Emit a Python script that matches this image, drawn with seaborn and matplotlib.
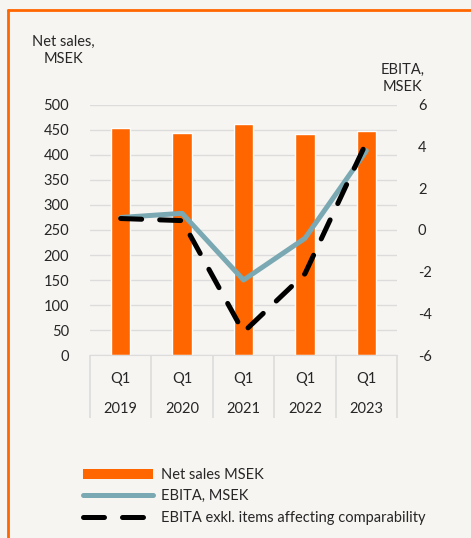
import numpy as np
import pandas as pd
import seaborn as sns
import matplotlib.pyplot as plt
from matplotlib.lines import Line2D
from matplotlib.patches import Patch

# chart data
quarters = ["Q1", "Q1", "Q1", "Q1", "Q1"]
years = ["2019", "2020", "2021", "2022", "2023"]
net_sales = [453, 444, 462, 441, 448]
ebita = [0.6, 0.8, -2.4, -0.4, 3.8]
ebita_excl = [0.55, 0.45, -4.9, -2.1, 4.2]

orange = "#FF6600"
teal = "#7AA9B3"
bg = "#F7F5F2"
grid = "#DCDCDC"

sns.set_style("white")
plt.rcParams["font.family"] = ["Lato", "DejaVu Sans"]
plt.rcParams["font.size"] = 10
plt.rcParams["axes.unicode_minus"] = False

df = pd.DataFrame({
    "label": [f"{q}\n{y}" for q, y in zip(quarters, years)],
    "net_sales": net_sales,
    "ebita": ebita,
    "ebita_excl": ebita_excl,
})
df["pos"] = np.arange(len(df))

fig = plt.figure(figsize=(4.71, 5.38), dpi=100, facecolor=bg)
ax = fig.add_axes([0.191, 0.340, 0.652, 0.465])
ax.set_facecolor(bg)

sns.barplot(data=df, x="label", y="net_sales", color=orange, width=0.32,
            saturation=1, ax=ax, zorder=2)
ax.set_ylim(0, 500)
ax.set_yticks(range(0, 501, 50))
ax.grid(axis="y", color=grid, linewidth=1, zorder=0)
ax.set_axisbelow(True)
for s in ["top", "right", "left"]:
    ax.spines[s].set_visible(False)
ax.spines["bottom"].set_color(grid)
ax.tick_params(axis="y", length=0, pad=15, labelsize=10.5)
ax.tick_params(axis="x", which="major", length=0, pad=12, labelsize=10.5)
for t in ax.get_xticklabels():
    t.set_linespacing(2.45)
ax.set_xticks(np.arange(-0.5, 5, 1), minor=True)
ax.tick_params(axis="x", which="minor", bottom=True, length=45, color=grid,
               width=1.2)
ax.set_xlim(-0.5, 4.5)
ax.set_xlabel("")
ax.set_ylabel("")

ax2 = ax.twinx()
sns.lineplot(data=df, x="pos", y="ebita", color=teal, linewidth=3.6, ax=ax2,
             solid_capstyle="round", zorder=3)
sns.lineplot(data=df, x="pos", y="ebita_excl", color="black", linewidth=3.6,
             ax=ax2, dashes=False, zorder=4)
ax2.lines[-1].set_dashes([4.2, 3.6])
ax2.lines[-1].set_dash_capstyle("round")
ax2.set_ylim(-6, 6)
ax2.set_yticks(range(-6, 7, 2))
ax2.tick_params(axis="y", length=0, pad=15, labelsize=10.5)
for s in ax2.spines.values():
    s.set_visible(False)
ax2.set_xlim(-0.5, 4.5)
ax2.set_xlabel("")
ax2.set_ylabel("")

fig.text(0.134, 0.935, "Net sales,\nMSEK", ha="center", va="top", fontsize=10.5,
         linespacing=1.3)
fig.text(0.855, 0.883, "EBITA,\nMSEK", ha="center", va="top", fontsize=10.5,
         linespacing=1.3)

handles = [
    Patch(facecolor=orange, edgecolor="none"),
    Line2D([], [], color=teal, linewidth=3.6, solid_capstyle="round"),
    Line2D([], [], color="black", linewidth=3.6, dashes=[4.2, 3.6],
           dash_capstyle="round"),
]
labels = ["Net sales MSEK", "EBITA, MSEK",
          "EBITA exkl. items affecting comparability"]
fig.legend(handles, labels, loc="upper left", bbox_to_anchor=(0.176, 0.13),
           frameon=False, handlelength=4.8, handletextpad=0.55,
           labelspacing=0.5, fontsize=10.5, borderaxespad=0, borderpad=0)

# orange frame around the chart (left and top edges visible)
fig.add_artist(Line2D([0.018, 0.018], [0, 0.981], color=orange, linewidth=2,
                      transform=fig.transFigure))
fig.add_artist(Line2D([0.018, 1], [0.981, 0.981], color=orange, linewidth=2,
                      transform=fig.transFigure))

fig.savefig("out.png", dpi=100, facecolor=bg)
